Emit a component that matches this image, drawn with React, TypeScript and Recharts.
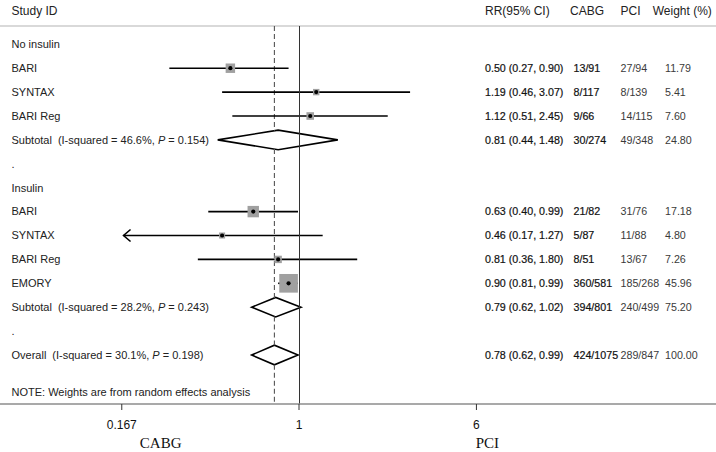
import React from 'react';
import {
  ComposedChart,
  XAxis,
  YAxis,
  Scatter,
  ReferenceLine,
  ReferenceArea,
} from 'recharts';

// rows of the forest plot, top to bottom
const rowLabels = [
  'No insulin', 'BARI', 'SYNTAX', 'BARI Reg', 'Subtotal', '.',
  'Insulin', 'BARI', 'SYNTAX', 'BARI Reg', 'EMORY', 'Subtotal', '.',
  'Overall',
];
const rowKinds = [
  'group', 'study', 'study', 'study', 'pooled', 'blank',
  'group', 'study', 'study', 'study', 'study', 'pooled', 'blank',
  'pooled',
];
const rr = [null, 0.5, 1.19, 1.12, 0.81, null, null, 0.63, 0.46, 0.81, 0.9, 0.79, null, 0.78];
const ciLow = [null, 0.27, 0.46, 0.51, 0.44, null, null, 0.4, 0.17, 0.36, 0.81, 0.62, null, 0.62];
const ciHigh = [null, 0.9, 3.07, 2.45, 1.48, null, null, 0.99, 1.27, 1.8, 0.99, 1.02, null, 0.99];
const cabgEvents = ['', '13/91', '8/117', '9/66', '30/274', '', '', '21/82', '5/87', '8/51', '360/581', '394/801', '', '424/1075'];
const pciEvents = ['', '27/94', '8/139', '14/115', '49/348', '', '', '31/76', '11/88', '13/67', '185/268', '240/499', '', '289/847'];
const weights = [null, 11.79, 5.41, 7.6, 24.8, null, null, 17.18, 4.8, 7.26, 45.96, 75.2, null, 100.0];
// heterogeneity for the pooled rows, in order
const hetI2 = ['46.6%', '28.2%', '30.1%'];
const hetP = ['0.154', '0.243', '0.198'];
// rows whose CI runs off the left of the axis
const clippedLowRows = [8];

const xTicks = [0.167, 1, 6];
const xTickLabels = ['0.167', '1', '6'];
const overallRR = 0.78;

// layout (row index units on the y axis, log10 units on the x axis)
const Y_TOP = -1.854;
const Y_BOTTOM = 15.05;
const HEADER_ROW = -1.393;
const RULE_ROW = -0.766;
const NOTE_ROW = 14.57;
const X_MIN = -1.3114;
const X_MAX = 1.8289;
const DIAMOND_HALF = 0.41;

const lg = (v: number) => Math.log10(v);

const rows = rowLabels.map((label, i) => ({
  label,
  kind: rowKinds[i],
  idx: i,
  rr: rr[i],
  lo: ciLow[i],
  hi: ciHigh[i],
  cabg: cabgEvents[i],
  pci: pciEvents[i],
  w: weights[i],
}));

let pooledCount = 0;
const hetByRow: Record<number, [string, string]> = {};
rows.forEach((r) => {
  if (r.kind === 'pooled') {
    hetByRow[r.idx] = [hetI2[pooledCount], hetP[pooledCount]];
    pooledCount += 1;
  }
});

const studyPoints = rows
  .filter((r) => r.kind === 'study')
  .map((r) => ({ x: lg(r.rr as number), y: r.idx, w: r.w }));
const arrowPoints = clippedLowRows.map((i) => ({ x: lg(ciLow[i] as number), y: i }));
const pooledRows = rows.filter((r) => r.kind === 'pooled');
const ciRows = rows.filter((r) => r.kind === 'study');

// the dashed overall line is hidden behind the (white) diamonds it crosses
const ov = lg(overallRR);
const dashSegments: [number, number][] = [];
let dashStart = RULE_ROW;
pooledRows.forEach((r) => {
  const lo = lg(r.lo as number);
  const hi = lg(r.hi as number);
  const est = lg(r.rr as number);
  if (ov < lo || ov > hi) return;
  const f = ov <= est ? (ov - lo) / (est - lo || 1) : (hi - ov) / (hi - est || 1);
  const h = DIAMOND_HALF * f;
  dashSegments.push([dashStart, r.idx - h]);
  dashStart = r.idx + h;
});
dashSegments.push([dashStart, Y_BOTTOM]);

// one invisible point per text line, so the text sits on the row's y
const labelPoints = [HEADER_ROW, ...rows.map((r) => r.idx), NOTE_ROW].map((v) => ({ x: X_MIN, y: v }));

const COL_LABEL = 11.5;
const COL_RR = 485;
const COL_CABG = 573.5;
const COL_PCI = 620.5;
const COL_W = 665;

const dark = { fill: '#111', stroke: '#111', strokeWidth: 0.2 };
const light = { fill: '#3a3a3a' };

const RowText = (props: any) => {
  const { cy, payload } = props;
  const v = payload.y;
  const y = cy;
  if (v === HEADER_ROW) {
    return (
      <g fontSize={12} fill="#222">
        <text x={COL_LABEL} y={y} dy="0.35em">Study ID</text>
        <text x={COL_RR} y={y} dy="0.35em">RR(95% CI)</text>
        <text x={570} y={y} dy="0.35em">CABG</text>
        <text x={COL_PCI} y={y} dy="0.35em">PCI</text>
        <text x={652.7} y={y} dy="0.35em">Weight (%)</text>
      </g>
    );
  }
  if (v === NOTE_ROW) {
    return (
      <text x={COL_LABEL} y={y} dy="0.35em" fontSize={11} fill="#222">
        NOTE: Weights are from random effects analysis
      </text>
    );
  }
  const r = rows[v];
  if (!r) return <g />;
  const het = hetByRow[r.idx];
  return (
    <g>
      <text x={COL_LABEL} y={y} dy="0.35em" fontSize={11} fill="#222">
        {r.label}
        {het && (
          <>
            <tspan dx={6}>(I-squared = {het[0]}, </tspan>
            <tspan fontStyle="italic">P</tspan>
            <tspan> = {het[1]})</tspan>
          </>
        )}
      </text>
      {r.rr != null && (
        <g fontSize={10.7}>
          <text x={COL_RR} y={y} dy="0.35em" {...dark}>
            {`${r.rr.toFixed(2)} (${(r.lo as number).toFixed(2)}, ${(r.hi as number).toFixed(2)})`}
          </text>
          <text x={COL_CABG} y={y} dy="0.35em" {...dark}>{r.cabg}</text>
          <text x={COL_PCI} y={y} dy="0.35em" {...light}>{r.pci}</text>
          <text x={COL_W} y={y} dy="0.35em" {...light}>{(r.w as number).toFixed(2)}</text>
        </g>
      )}
    </g>
  );
};

const XTick = (props: any) => {
  const { x, y, payload } = props;
  const k = xTicks.findIndex((t) => Math.abs(lg(t) - payload.value) < 1e-6);
  return (
    <text x={x} y={y} dy="0.71em" textAnchor="middle" fontSize={12} fill="#111">
      {k >= 0 ? xTickLabels[k] : ''}
    </text>
  );
};

const WeightBox = (props: any) => {
  const { cx, cy, payload } = props;
  const side = 2.75 * Math.sqrt(payload.w);
  return (
    <g>
      <rect x={cx - side / 2} y={cy - side / 2} width={side} height={side} fill="#a0a0a0" />
      <circle cx={cx} cy={cy} r={2.1} fill="#000" />
    </g>
  );
};

const ArrowHead = (props: any) => {
  const { cx, cy } = props;
  return (
    <path
      d={`M${cx + 7},${cy - 6}L${cx},${cy}L${cx + 7},${cy + 6}`}
      fill="none"
      stroke="#000"
      strokeWidth={1.6}
    />
  );
};

const makeDiamond = (frac: number) => (props: any) => {
  const { x, y, width, height } = props;
  const cx = x + frac * width;
  const cy = y + height / 2;
  return (
    <path
      d={`M${x},${cy}L${cx},${y}L${x + width},${cy}L${cx},${y + height}Z`}
      fill="#fff"
      stroke="#000"
      strokeWidth={1.6}
      strokeLinejoin="miter"
    />
  );
};

export default function App() {
  return (
    <div
      style={{
        position: 'absolute',
        left: 0,
        top: 0,
        width: 716,
        height: 452,
        background: '#fff',
        fontFamily: '"Liberation Sans", Arial, Helvetica, sans-serif',
      }}
    >
      <ComposedChart width={716} height={452} margin={{ top: 0, right: 0, bottom: 18, left: 0 }}>
        <XAxis
          type="number"
          dataKey="x"
          domain={[X_MIN, X_MAX]}
          allowDataOverflow
          ticks={xTicks.map(lg)}
          interval={0}
          height={30}
          tickSize={6}
          tickMargin={10}
          axisLine={{ stroke: '#8c8c8c', strokeWidth: 1.3 }}
          tickLine={{ stroke: '#333' }}
          tick={XTick}
        />
        <YAxis
          type="number"
          dataKey="y"
          domain={[Y_TOP, Y_BOTTOM]}
          reversed
          allowDataOverflow
          hide
        />
        <ReferenceLine y={RULE_ROW} stroke="#b4b4b4" strokeWidth={1.2} ifOverflow="visible" />
        {dashSegments.map(([a, b], k) => (
          <ReferenceLine
            key={`dash${k}`}
            segment={[
              { x: ov, y: a },
              { x: ov, y: b },
            ]}
            stroke="#555"
            strokeDasharray="5 3"
            strokeWidth={1.1}
            ifOverflow="visible"
          />
        ))}
        {pooledRows.map((r) => {
          const lo = lg(r.lo as number);
          const hi = lg(r.hi as number);
          const frac = (lg(r.rr as number) - lo) / (hi - lo);
          return (
            <ReferenceArea
              key={`d${r.idx}`}
              x1={lo}
              x2={hi}
              y1={r.idx - DIAMOND_HALF}
              y2={r.idx + DIAMOND_HALF}
              ifOverflow="visible"
              shape={makeDiamond(frac)}
            />
          );
        })}
        {ciRows.map((r) => (
          <ReferenceLine
            key={`ci${r.idx}`}
            segment={[
              { x: lg(r.lo as number), y: r.idx },
              { x: lg(r.hi as number), y: r.idx },
            ]}
            stroke="#000"
            strokeWidth={1.6}
            ifOverflow="visible"
          />
        ))}
        <Scatter data={studyPoints} shape={WeightBox} isAnimationActive={false} />
        <Scatter data={arrowPoints} shape={ArrowHead} isAnimationActive={false} />
        <Scatter data={labelPoints} shape={RowText} isAnimationActive={false} />
        <ReferenceLine
          segment={[
            { x: 0, y: RULE_ROW },
            { x: 0, y: Y_BOTTOM },
          ]}
          stroke="#333"
          strokeWidth={1}
          shapeRendering="crispEdges"
          ifOverflow="visible"
        />
      </ComposedChart>
      <div
        style={{
          position: 'absolute',
          left: 160.7,
          top: 436.4,
          transform: 'translateX(-50%)',
          fontFamily: '"Liberation Serif", "Times New Roman", serif',
          fontSize: 15,
          lineHeight: '15px',
          color: '#111',
          whiteSpace: 'nowrap',
        }}
      >
        CABG
      </div>
      <div
        style={{
          position: 'absolute',
          left: 487.3,
          top: 436.4,
          transform: 'translateX(-50%)',
          fontFamily: '"Liberation Serif", "Times New Roman", serif',
          fontSize: 15,
          lineHeight: '15px',
          color: '#111',
          whiteSpace: 'nowrap',
        }}
      >
        PCI
      </div>
    </div>
  );
}
